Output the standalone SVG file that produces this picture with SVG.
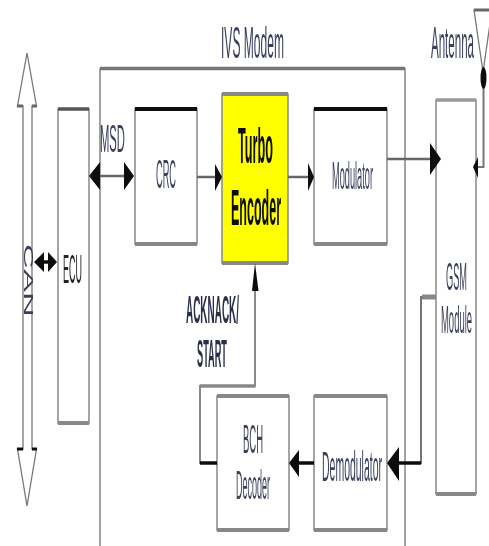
<svg xmlns="http://www.w3.org/2000/svg" width="489" height="546" viewBox="0 0 489 546">
<style>
.box{fill:#fff;stroke:#8f8f8f;stroke-width:1.600}
.top{stroke:#555;stroke-width:3.500;fill:none}
.topk{stroke:#111;stroke-width:4;fill:none}
.bot{stroke:#888;stroke-width:4;fill:none}
.line{stroke:#999;stroke-width:1.800;fill:none}
.wire{stroke:#666;stroke-width:2.500;fill:none}
.wirek{stroke:#111;stroke-width:3.500;fill:none}
.head{fill:#111;stroke:none}
.t{font-family:"Liberation Sans",Arial,sans-serif;font-size:11px;fill:#3a3f5a}
.b{font-weight:bold;fill:#111}
</style>
<defs><filter id="soft" x="-5%" y="-5%" width="110%" height="110%"><feGaussianBlur stdDeviation="0.65"/></filter></defs>
<rect width="489" height="546" fill="#fff"/>
<g filter="url(#soft)">
<g id="ivs-modem">
<path class="line" d="M100 546V69H405V546"/>
<path d="M100 68.500H405" stroke="#777" stroke-width="3.500" fill="none"/>
<text class="t" transform="translate(221 58) scale(1 4.100)" textLength="63" lengthAdjust="spacingAndGlyphs">IVS Modem</text>
</g>
<g id="can">
<path d="M23 106V449H17.500L27 506L36.500 449H32V106H36.500L27 53L17.500 106Z" fill="#fff" stroke="#777" stroke-width="1.300"/>
<path d="M17 106H23M32 106H37" stroke="#666" stroke-width="3"/>
<path d="M17 449H23M32 449H37" stroke="#111" stroke-width="3"/>
<text class="t" transform="translate(23.500 244) rotate(90) scale(2.800 1.100)" textLength="26" lengthAdjust="spacingAndGlyphs">CAN</text>
</g>
<g id="ecu">
<rect class="box" x="58" y="109" width="31" height="314"/>
<path class="top" d="M58 109H89"/><path class="bot" d="M58 423H89"/>
<text class="t" transform="translate(63 283) scale(1 3.700)" textLength="19" lengthAdjust="spacingAndGlyphs" style="fill:#222">ECU</text>
</g>
<g id="crc">
<rect class="box" x="135" y="109" width="62" height="135"/>
<path class="topk" d="M135 109H197"/><path class="bot" d="M135 244H197"/>
<text class="t" transform="translate(156 188) scale(1 3.700)" textLength="20" lengthAdjust="spacingAndGlyphs">CRC</text>
</g>
<g id="turbo-encoder">
<rect x="222" y="94" width="66" height="169" fill="#ffff00" stroke="#888" stroke-width="1.500"/>
<path class="bot" d="M222 94H288M222 263H288"/>
<text class="t b" transform="translate(238 163) scale(1 4.500)" textLength="35" lengthAdjust="spacingAndGlyphs">Turbo</text>
<text class="t b" transform="translate(231 225) scale(1 4.500)" textLength="50" lengthAdjust="spacingAndGlyphs">Encoder</text>
</g>
<g id="modulator">
<rect class="box" x="314" y="109" width="73" height="135"/>
<path class="topk" d="M314 109H387"/><path class="bot" d="M314 244H387"/>
<text class="t" transform="translate(332 189) scale(1 3.600)" textLength="41" lengthAdjust="spacingAndGlyphs">Modulator</text>
</g>
<g id="gsm-module">
<rect class="box" x="436" y="100" width="40" height="394"/>
<path class="top" d="M436 100H476" style="stroke:#999"/><path class="bot" d="M436 494H476"/>
<text class="t" transform="translate(446 290) scale(1 4.400)" textLength="21" lengthAdjust="spacingAndGlyphs" style="font-size:9px">GSM</text>
<text class="t" transform="translate(441 333) scale(1 4.400)" textLength="31" lengthAdjust="spacingAndGlyphs" style="font-size:9px">Module</text>
</g>
<g id="bch-decoder">
<rect class="box" x="217" y="396" width="72" height="134"/>
<path class="bot" d="M217 396H289M217 530H289"/>
<text class="t" transform="translate(243 453) scale(1 4.600)" textLength="20" lengthAdjust="spacingAndGlyphs" style="font-size:9px">BCH</text>
<text class="t" transform="translate(236 499) scale(1 4.600)" textLength="34" lengthAdjust="spacingAndGlyphs" style="font-size:9px">Decoder</text>
</g>
<g id="demodulator">
<rect class="box" x="314" y="396" width="73" height="134"/>
<path class="bot" d="M314 396H387M314 530H387"/>
<text class="t" transform="translate(322 481) scale(1 3.800)" textLength="60" lengthAdjust="spacingAndGlyphs">Demodulator</text>
</g>
<g id="antenna">
<path d="M474 10H492L483 72Z" fill="#fff" stroke="#777" stroke-width="1.300"/>
<path d="M474 10H489" stroke="#666" stroke-width="3"/>
<text class="t" transform="translate(431 58) scale(1 4)" textLength="43" lengthAdjust="spacingAndGlyphs">Antenna</text>
</g>
<g id="connectors">
<path class="wire" d="M99 176H125"/>
<path class="head" d="M89 176L100 162V190ZM134 176L124 162V190Z"/>
<path class="wire" d="M197 177H216"/><path class="head" d="M222 177L215 164V191Z"/>
<path class="wire" d="M288 177H309"/><path class="head" d="M314 177L308 163V191Z"/>
<path class="wire" d="M387 159H431"/><path class="head" d="M441 159L430 143V175Z"/>
<path d="M483.500 85V167H478" stroke="#777" stroke-width="2" fill="none"/>
<ellipse class="head" cx="483.500" cy="78" rx="3" ry="11"/>
<path class="head" d="M473 167L478 157V178Z"/>
<path class="wirek" d="M42 262H50"/><path class="head" d="M34 262L44 252V272ZM57 262L48 252V272Z"/>
<path d="M255 288V386H200V463H217" stroke="#888" stroke-width="2" fill="none"/>
<path d="M200 386H255" stroke="#888" stroke-width="3.500" fill="none"/>
<path class="wirek" d="M200 463H217"/>
<path class="head" d="M255 263L258.500 291H252Z"/>
<path class="wirek" d="M297 463H314"/><path class="head" d="M289 463L299 450V477Z"/>
<path d="M436 297H421V463H397" stroke="#777" stroke-width="2" fill="none"/>
<path d="M436 297H422" stroke="#888" stroke-width="5" fill="none"/>
<path class="wirek" d="M397 463H421"/><path class="head" d="M387 463L399 447V481Z"/>
</g>
<g id="ack-label">
<text class="t b" transform="translate(186 323) scale(1 3.600)" textLength="53" lengthAdjust="spacingAndGlyphs" style="fill:#2a2f4a">ACKNACK/</text>
<text class="t b" transform="translate(197 367) scale(1 4.400)" textLength="30" lengthAdjust="spacingAndGlyphs" style="fill:#2a2f4a;font-size:9px">START</text>
</g>
<g id="msd-label">
<text class="t" transform="translate(100 152) scale(1 4.400)" textLength="25" lengthAdjust="spacingAndGlyphs" style="font-size:9px">MSD</text>
</g>
</g>
</svg>
